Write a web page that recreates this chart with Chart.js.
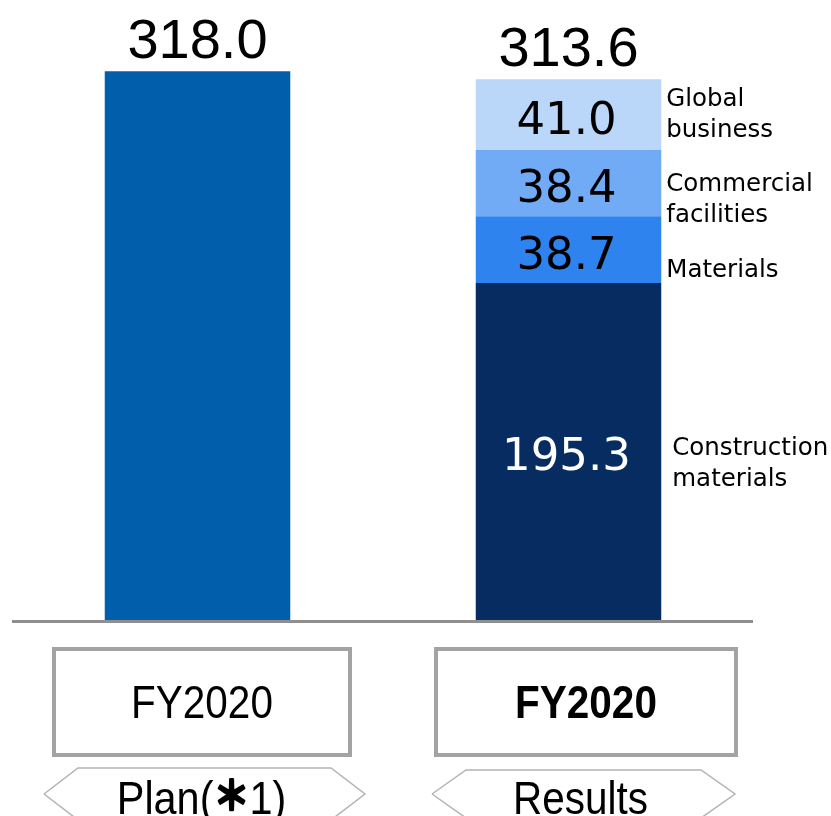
<!DOCTYPE html>
<html>
<head>
<meta charset="utf-8">
<script src="https://cdn.jsdelivr.net/npm/chart.js@4/dist/chart.umd.min.js"></script>
<style>
  html, body { margin: 0; padding: 0; background: #ffffff; }
  #wrap { width: 831px; height: 816px; }
</style>
</head>
<body>
<div id="wrap"><canvas id="c" width="831" height="816"></canvas></div>
<script>
// ---- data ----
const categories = ["Plan", "Results"];
const yearLabels = ["FY2020", "FY2020"];
const subLabels = ["Plan(＊1)", "Results"];
const planValues = [318.0, null];
const constructionValues = [null, 195.3];
const materialsValues = [null, 38.7];
const commercialValues = [null, 38.4];
const globalValues = [null, 41.0];
const totals = [318.0, 313.6];
const seriesNames = ["", "Construction\nmaterials", "Materials", "Commercial\nfacilities", "Global\nbusiness"];

// ---- styling / layout (not data) ----
const colors = ["#005EAB", "#062C61", "#2E83EF", "#71AAF5", "#BAD7F9"];
const valueColors = ["#000", "#ffffff", "#000000", "#000000", "#000000"];
const nameLayout = [null, {dy: 3.5, dx: 11}, {dy: 27, dx: 5}, {dy: 7.5, dx: 5}, {dy: -9, dx: 5}];
const boxLayout = [{dx: 4.5, w: 300}, {dx: 17.5, w: 304}];
const hexLayout = [{dx: 7, w: 321}, {dx: 15, w: 303, dy: 2}];

function drawMixed(ctx, text, cx, y, sx) {
  const normal = '46px "Liberation Sans", Arial, "Noto Sans CJK JP", sans-serif';
  const heavy = 'bold 40px "Noto Sans CJK JP", "Liberation Sans", sans-serif';
  const parts = [];
  let buf = '';
  for (const ch of text) {
    if (ch === '＊') { if (buf) parts.push([buf, normal]); parts.push([ch, heavy]); buf = ''; }
    else buf += ch;
  }
  if (buf) parts.push([buf, normal]);
  ctx.save();
  ctx.translate(cx, y);
  ctx.scale(sx, 1);
  let total = 0;
  parts.forEach(p => { ctx.font = p[1]; total += ctx.measureText(p[0]).width; });
  let x = -total / 2;
  ctx.textAlign = 'left';
  ctx.fillStyle = '#000';
  ctx.strokeStyle = '#000';
  parts.forEach(p => {
    ctx.font = p[1];
    if (p[1] === heavy) {
      ctx.lineWidth = 2.5;
      ctx.lineJoin = 'round';
      ctx.fillText(p[0], x, -4);
      ctx.strokeText(p[0], x, -4);
    } else {
      ctx.fillText(p[0], x, 0);
    }
    x += ctx.measureText(p[0]).width;
  });
  ctx.restore();
}

const overlay = {
  id: 'overlay',
  afterDatasetsDraw(chart) {
    const ctx = chart.ctx;
    const xs = chart.scales.x;
    const ys = chart.scales.y;
    const area = chart.chartArea;
    ctx.save();

    // baseline
    ctx.strokeStyle = '#8f8f8f';
    ctx.lineWidth = 3;
    ctx.beginPath();
    ctx.moveTo(12, area.bottom + 1.5);
    ctx.lineTo(753, area.bottom + 1.5);
    ctx.stroke();

    // value labels inside segments + series names
    chart.data.datasets.forEach((ds, di) => {
      const meta = chart.getDatasetMeta(di);
      meta.data.forEach((el, i) => {
        const v = ds.data[i];
        if (v === null || v === undefined || di === 0) return;
        const cy = (el.y + el.base) / 2;
        ctx.font = '45px "DejaVu Sans"';
        ctx.fillStyle = valueColors[di];
        ctx.textAlign = 'center';
        ctx.textBaseline = 'alphabetic';
        ctx.fillText(v.toFixed(1), el.x - 2, cy + 19);
        const nl = nameLayout[di];
        const lines = seriesNames[di].split('\n');
        ctx.font = '24.5px "DejaVu Sans"';
        ctx.fillStyle = '#000';
        ctx.textAlign = 'left';
        lines.forEach((ln, k) => {
          ctx.fillText(ln, el.x + el.width / 2 + nl.dx, cy + nl.dy + k * 31.5);
        });
      });
    });

    // totals
    ctx.font = '56px "Liberation Sans", Arial, sans-serif';
    ctx.fillStyle = '#000';
    ctx.textAlign = 'center';
    ctx.textBaseline = 'alphabetic';
    totals.forEach((t, i) => {
      ctx.fillText(t.toFixed(1), xs.getPixelForValue(i), ys.getPixelForValue(t) - 13);
    });

    // category boxes and hexagons
    categories.forEach((c, i) => {
      const x = xs.getPixelForValue(i);
      const b = boxLayout[i];
      const bx = x + b.dx - b.w / 2;
      ctx.strokeStyle = '#a3a3a3';
      ctx.lineWidth = 4;
      ctx.strokeRect(bx + 2, 649, b.w - 4, 106);

      ctx.save();
      ctx.translate(x + b.dx, 718);
      ctx.scale(0.88, 1);
      ctx.font = (i === 1 ? 'bold ' : '') + '46px "Liberation Sans", Arial, sans-serif';
      ctx.fillStyle = '#000';
      ctx.textAlign = 'center';
      ctx.fillText(yearLabels[i], 0, 0);
      ctx.restore();

      const h = hexLayout[i];
      const hc = x + h.dx;
      const hl = hc - h.w / 2, hr = hc + h.w / 2;
      const top = 768 + (h.dy || 0), mid = 794;
      const inset = 34;
      ctx.strokeStyle = '#b3b3b3';
      ctx.lineWidth = 1.5;
      ctx.beginPath();
      ctx.moveTo(hl, mid);
      ctx.lineTo(hl + inset, top);
      ctx.lineTo(hr - inset, top);
      ctx.lineTo(hr, mid);
      ctx.lineTo(hr - inset, mid + (mid - top));
      ctx.moveTo(hl, mid);
      ctx.lineTo(hl + inset, mid + (mid - top));
      ctx.stroke();

      drawMixed(ctx, subLabels[i], hc - 3, 814, i === 0 ? 0.9 : 0.88);
    });

    ctx.restore();
  }
};

const common = { barPercentage: 0.5, categoryPercentage: 1.0, borderSkipped: 'bottom' };
const sep = { borderColor: '#ffffff', borderWidth: {top: 0, bottom: 2, left: 0, right: 0} };
new Chart(document.getElementById('c'), {
  type: 'bar',
  data: {
    labels: categories,
    datasets: [
      Object.assign({ label: 'Plan', data: planValues, backgroundColor: colors[0], borderWidth: 0 }, common),
      Object.assign({ label: 'Construction materials', data: constructionValues, backgroundColor: colors[1], borderWidth: 0 }, common),
      Object.assign({ label: 'Materials', data: materialsValues, backgroundColor: colors[2] }, sep, common),
      Object.assign({ label: 'Commercial facilities', data: commercialValues, backgroundColor: colors[3] }, sep, common),
      Object.assign({ label: 'Global business', data: globalValues, backgroundColor: colors[4] }, sep, common)
    ]
  },
  options: {
    responsive: false,
    animation: false,
    devicePixelRatio: 1,
    layout: { padding: { left: 12, right: 77, top: 16, bottom: 196 } },
    plugins: { legend: { display: false }, tooltip: { enabled: false } },
    scales: {
      x: { stacked: true, display: false },
      y: { stacked: true, display: false, min: 0, max: 350 }
    }
  },
  plugins: [overlay]
});
</script>
</body>
</html>
